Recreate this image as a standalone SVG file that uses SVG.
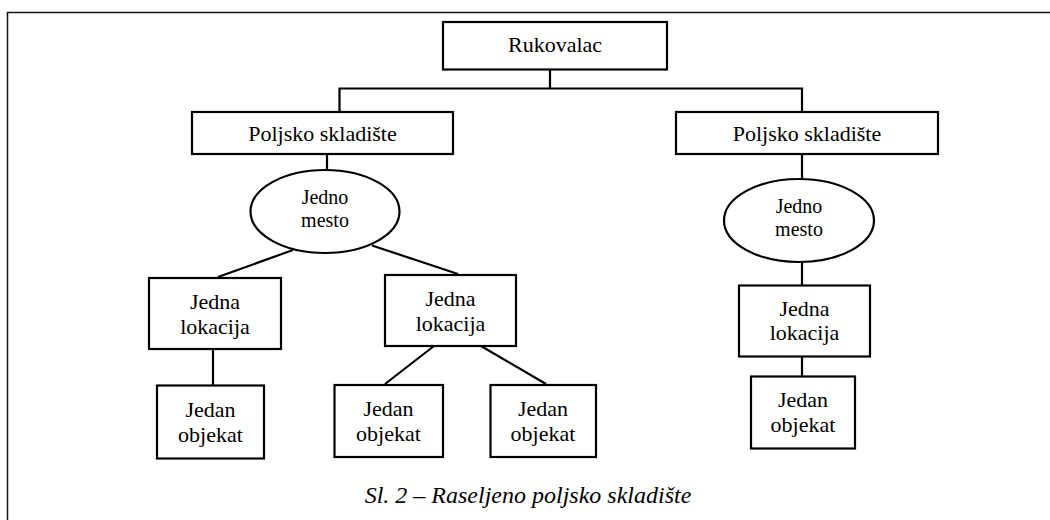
<svg xmlns="http://www.w3.org/2000/svg" width="1050" height="520" viewBox="0 0 1050 520">
<style>
.n{fill:#fff;stroke:#000;stroke-width:2.2}
.t{font-size:22px;fill:#000;text-anchor:middle}
.e{font-size:20px;fill:#000;text-anchor:middle}
.c{fill:none;stroke:#000;stroke-width:2.2}
.cap{font-size:24px;font-style:italic;fill:#000;text-anchor:middle}
</style>
<rect width="1050" height="520" fill="#fff"/>
<rect x="7.5" y="12.5" width="1100" height="600" fill="none" stroke="#111" stroke-width="1.5"/>
<g id="connectors">
<path class="c" d="M550,70V88.5M339.5,112V88.5H802V112"/>
<path class="c" d="M327,154V171"/>
<path class="c" d="M293,250L218,277M372,245.5L458,274"/>
<path class="c" d="M213,349V385"/>
<path class="c" d="M434,346L385,384M481,346L546,384"/>
<path class="c" d="M802,154V179M802,262V285M802,356V376"/>
</g>
<g font-family="'Liberation Serif', 'Times New Roman', 'DejaVu Serif', serif">
<g id="rukovalac"><rect class="n" x="443" y="22" width="224" height="47.5"/><text class="t" x="555" y="52">Rukovalac</text></g>
<g id="poljsko1"><rect class="n" x="192" y="112" width="261" height="42"/><text class="t" x="322.5" y="141">Poljsko skladište</text></g>
<g id="poljsko2"><rect class="n" x="676" y="112" width="262" height="42"/><text class="t" x="807" y="141">Poljsko skladište</text></g>
<g id="mesto1"><ellipse class="n" cx="325" cy="211.5" rx="74.5" ry="41.5"/><text class="e" x="325" y="203.5">Jedno</text><text class="e" x="325" y="226.5">mesto</text></g>
<g id="mesto2"><ellipse class="n" cx="799" cy="220.5" rx="75" ry="41.5"/><text class="e" x="799" y="212.5">Jedno</text><text class="e" x="799" y="235.5">mesto</text></g>
<g id="lokacija1"><rect class="n" x="149" y="278" width="132" height="71"/><text class="t" x="215" y="309">Jedna</text><text class="t" x="215" y="334">lokacija</text></g>
<g id="lokacija2"><rect class="n" x="385" y="275" width="131" height="71"/><text class="t" x="450.5" y="306">Jedna</text><text class="t" x="450.5" y="331">lokacija</text></g>
<g id="lokacija3"><rect class="n" x="739" y="285.5" width="131" height="71"/><text class="t" x="804.5" y="316">Jedna</text><text class="t" x="804.5" y="340">lokacija</text></g>
<g id="objekat1"><rect class="n" x="157" y="385.5" width="107" height="73"/><text class="t" x="210.5" y="416.5">Jedan</text><text class="t" x="210.5" y="441.5">objekat</text></g>
<g id="objekat2"><rect class="n" x="334.5" y="385" width="108.5" height="72"/><text class="t" x="388.5" y="416">Jedan</text><text class="t" x="388.5" y="441">objekat</text></g>
<g id="objekat3"><rect class="n" x="490.5" y="385" width="105.5" height="72"/><text class="t" x="543" y="416">Jedan</text><text class="t" x="543" y="441">objekat</text></g>
<g id="objekat4"><rect class="n" x="751" y="376.5" width="104" height="72"/><text class="t" x="803" y="406.5">Jedan</text><text class="t" x="803" y="431.5">objekat</text></g>
<text class="cap" x="528" y="503">Sl. 2 – Raseljeno poljsko skladište</text>
</g>
</svg>
